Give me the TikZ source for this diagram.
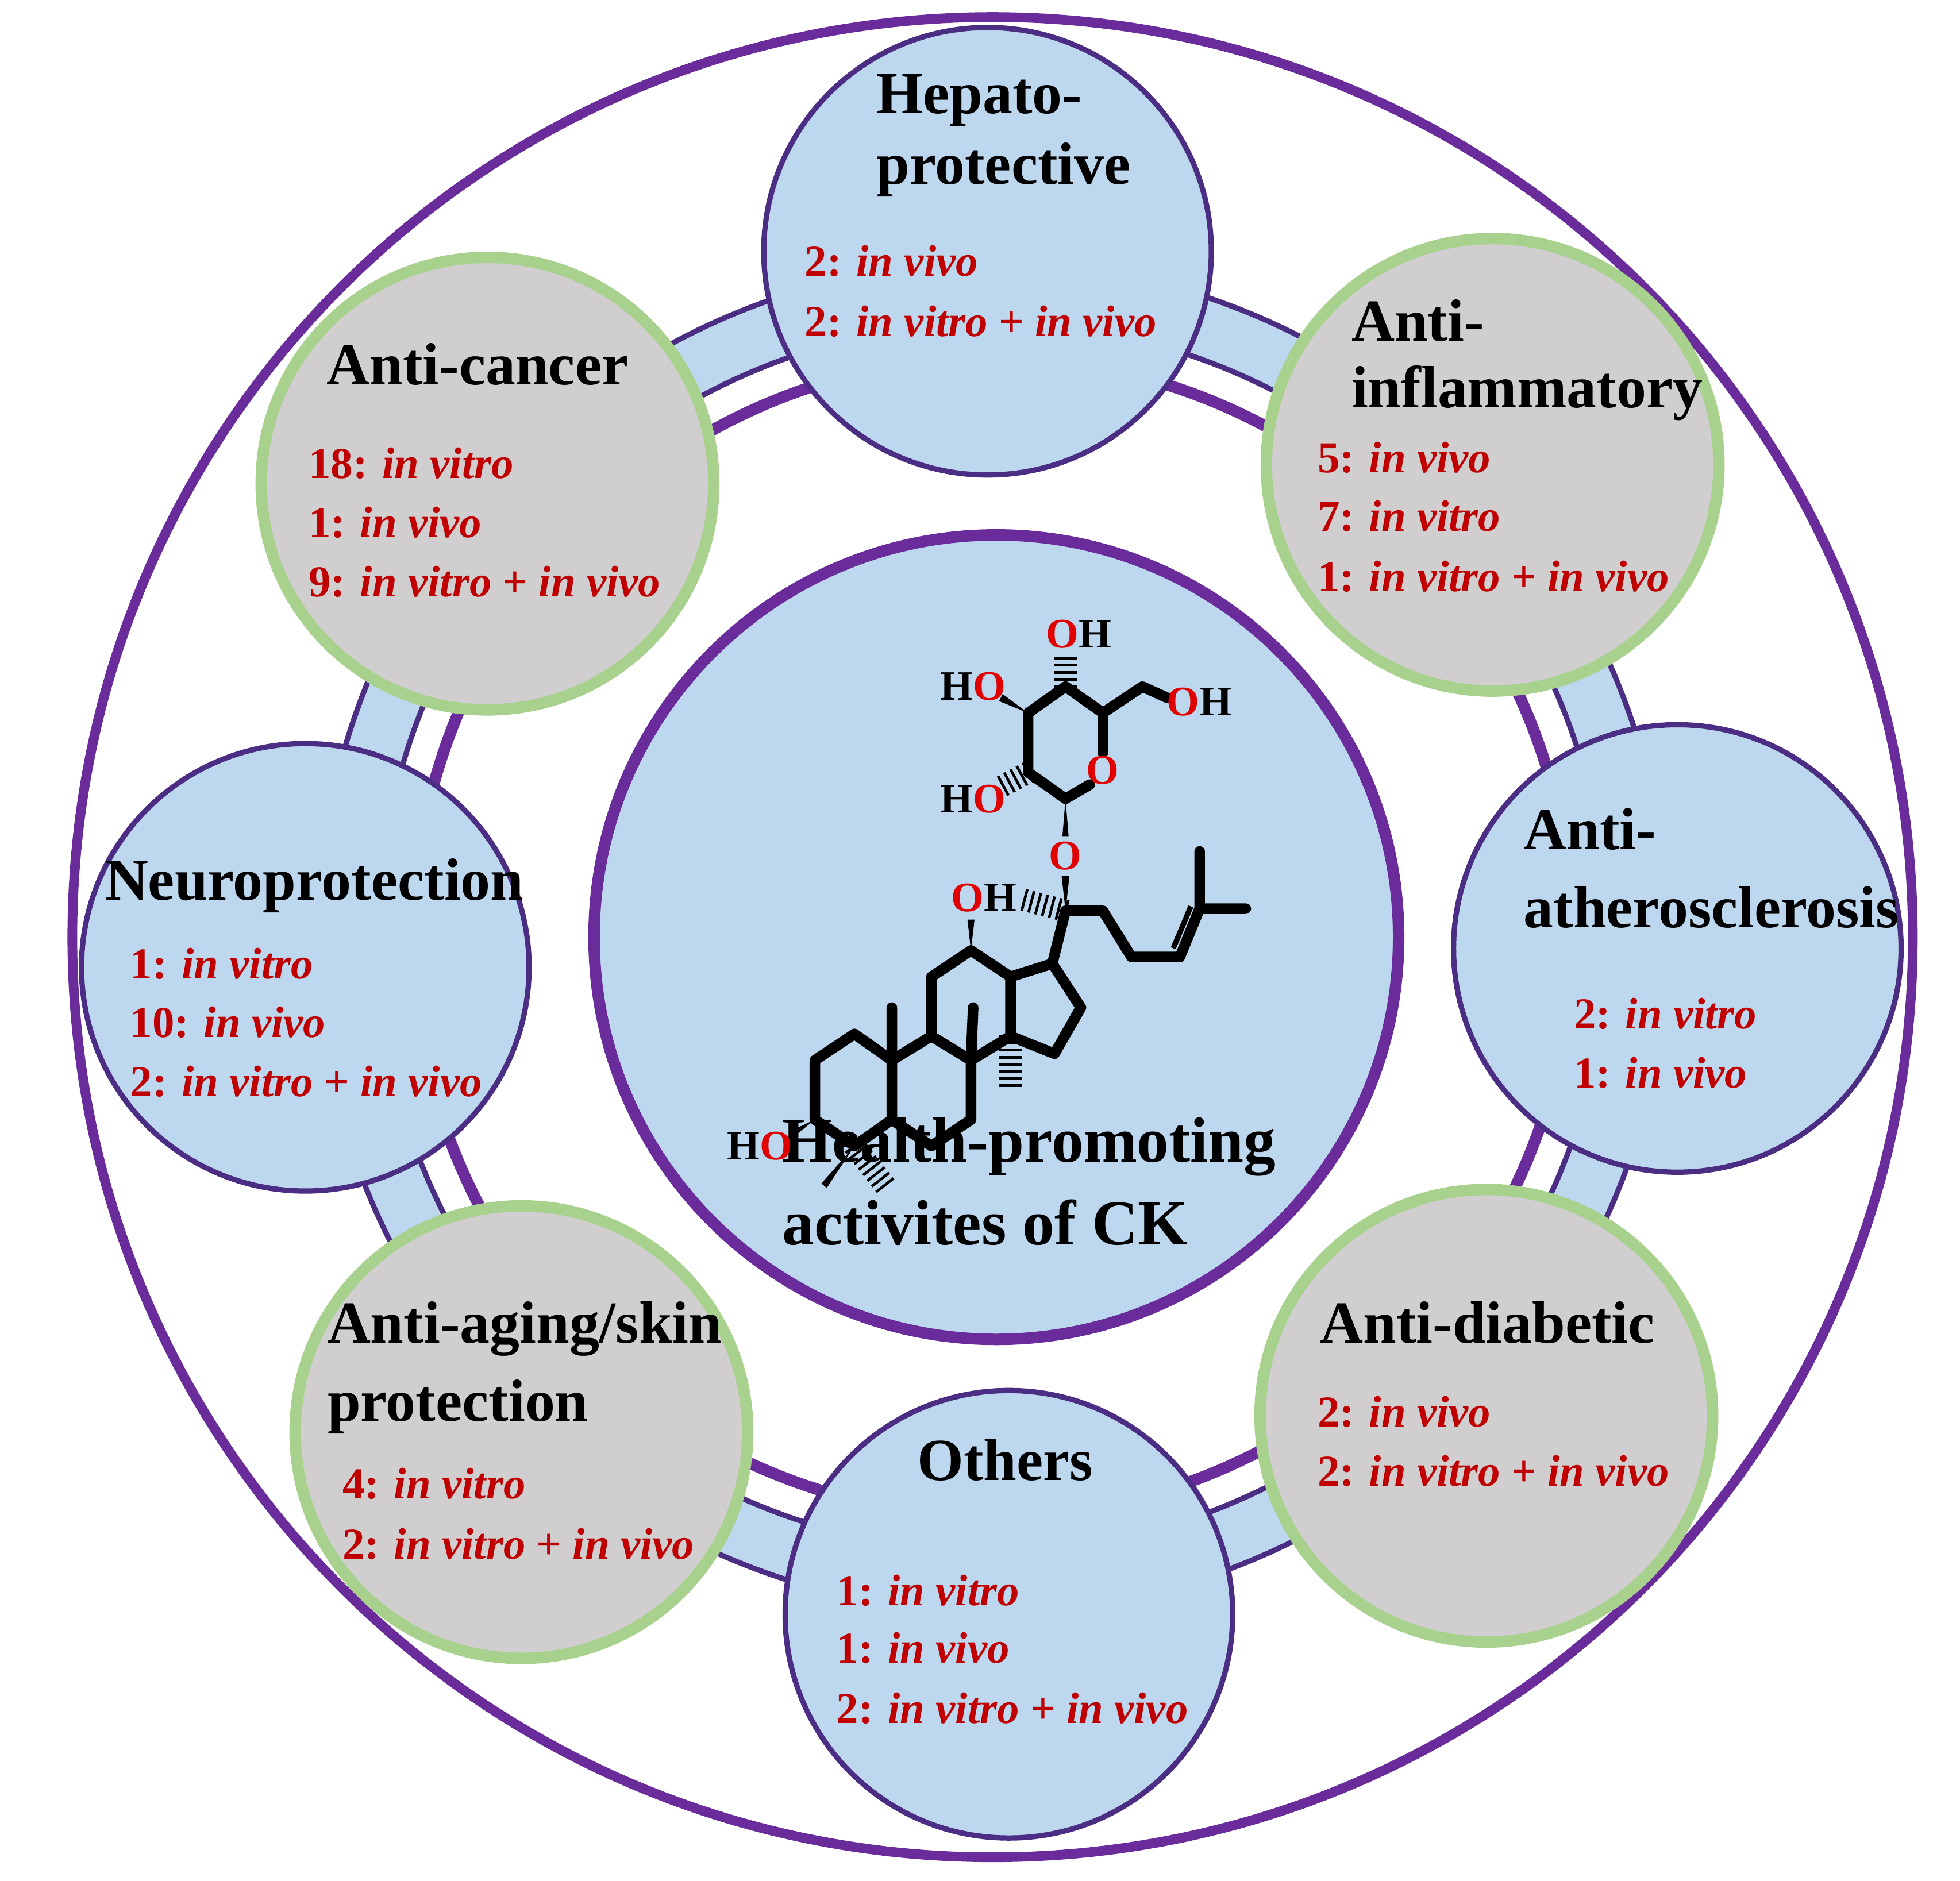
\documentclass[tikz,border=0pt]{standalone}
\usepackage{fontspec}
\setmainfont{Liberation Serif}
\usetikzlibrary{decorations.pathreplacing}
\definecolor{pur}{HTML}{6A2C9A}
\definecolor{dpur}{HTML}{4B2E83}
\definecolor{lblue}{HTML}{BDD7EE}
\definecolor{lgray}{HTML}{D0CECE}
\definecolor{lgreen}{HTML}{A9D18E}
\definecolor{dred}{HTML}{C00000}
\definecolor{ored}{HTML}{E00000}
\tikzset{
 bsat/.style={circle,draw=dpur,line width=1.2pt,fill=lblue,minimum size=3.56cm,inner sep=0},
 gsat/.style={circle,draw=lgreen,line width=2.6pt,fill=lgray,minimum size=3.6cm,inner sep=0},
 ttl/.style={anchor=west,font=\bfseries\fontsize{13.5}{14}\selectfont,inner sep=0},
 ttc/.style={font=\bfseries\fontsize{13.5}{14}\selectfont,inner sep=0},
 num/.style={anchor=west,text=dred,font=\bfseries\fontsize{10}{11}\selectfont,inner sep=0},
 bond/.style={line width=2.4pt,line cap=round,line join=round},
 hash/.style={decorate,decoration={ticks,segment length=1.6pt,amplitude=2.5pt},line width=0.6pt},
 atm/.style={font=\bfseries\fontsize{9.5}{10}\selectfont,inner sep=0}
}
\newcommand{\iv}{\textit{in vivo}}
\newcommand{\ivt}{\textit{in vitro}}
\begin{document}
\begin{tikzpicture}[x=0.01cm,y=-0.01cm]
\useasboundingbox (0,0) rectangle (1560,1497);
\node[circle,draw=pur,line width=2.2pt,minimum size=14.64cm,inner sep=0] (outer) at (790,746) {};
% band ring
\fill[lblue,even odd rule] (790,746) circle (537) (790,746) circle (489);
\draw[dpur,line width=1.2pt] (790,746) circle (537) (790,746) circle (489);
\draw[pur,line width=2.6pt] (790,746) circle (461);
\node[circle,draw=pur,line width=2.6pt,fill=lblue,minimum size=6.4cm,inner sep=0] (ctr) at (793,746) {};
% satellites
\node[bsat] (hep) at (786,200) {};
\node[gsat] (inf) at (1188,370) {};
\node[bsat] (ath) at (1335,755) {};
\node[gsat] (dia) at (1183,1127) {};
\node[bsat] (oth) at (803,1285) {};
\node[gsat] (age) at (415,1140) {};
\node[bsat] (neu) at (243,770) {};
\node[gsat] (can) at (388,385) {};
% texts
\node[ttl] (t1) at (697,80) {Hepato-};
\node[ttl] (t2) at (697,135) {protective};
\node[num] (n1) at (640,208) {2: \iv};
\node[num] (n2) at (640,256) {2: \ivt{} + \iv};
\node[ttc] (t3) at (380,290) {Anti-cancer};
\node[num] (n3) at (245,369) {18: \ivt};
\node[num] (n4) at (245,416) {1: \iv};
\node[num] (n5) at (245,463) {9: \ivt{} + \iv};
\node[ttl] (t4) at (1075,255) {Anti-};
\node[ttl] (t5) at (1075,313) {inflammatory};
\node[num] (n6) at (1048,364) {5: \iv};
\node[num] (n7) at (1048,411) {7: \ivt};
\node[num] (n8) at (1048,459) {1: \ivt{} + \iv};
\node[ttl] (t6) at (1212,660) {Anti-};
\node[ttl] (t7) at (1212,722) {atherosclerosis};
\node[num] (n9) at (1252,807) {2: \ivt};
\node[num] (n10) at (1252,854) {1: \iv};
\node[ttl] (t8) at (1050,1053) {Anti-diabetic};
\node[num] (n11) at (1048,1124) {2: \iv};
\node[num] (n12) at (1048,1171) {2: \ivt{} + \iv};
\node[ttc] (t9) at (800,1162) {Others};
\node[num] (n13) at (665,1266) {1: \ivt};
\node[num] (n14) at (665,1312) {1: \iv};
\node[num] (n15) at (665,1360) {2: \ivt{} + \iv};
\node[ttl] (t10) at (260,1058) {Anti-aging/skin};
\node[ttl] (t11) at (260,1120) {protection};
\node[num] (n16) at (272,1181) {4: \ivt};
\node[num] (n17) at (272,1229) {2: \ivt{} + \iv};
\node[ttl] (t12) at (83,705) {Neuroprotection};
\node[num] (n18) at (103,767) {1: \ivt};
\node[num] (n19) at (103,814) {10: \iv};
\node[num] (n20) at (103,861) {2: \ivt{} + \iv};
\node[ttl,font=\bfseries\fontsize{14.5}{15}\selectfont] (c1) at (622,913) {Health-promoting};
\node[ttl,font=\bfseries\fontsize{14.5}{15}\selectfont] (c2) at (622,973) {activites of CK};
% molecule
\begin{scope}[shift={(548.8,457.3)},scale=0.35]
\draw[bond] (285,1105)--(375,1045)--(460,1105)--(460,1240)--(375,1300)--(285,1240)--cycle;
\draw[bond] (460,1105)--(550,1050)--(640,1105)--(640,1240)--(550,1300)--(460,1240);
\draw[bond] (550,1050)--(550,915)--(640,855)--(730,915)--(730,1050)--(640,1105);
\draw[bond] (730,915)--(825,885)--(890,985)--(830,1090)--(730,1050);
\draw[bond] (460,1105)--(460,985) (640,1105)--(645,985);
\draw[bond] (825,885)--(855,765)--(940,765)--(1005,870)--(1115,870)--(1160,760)--(1160,630) (1160,760)--(1265,760);
\draw[line width=1.2pt] (1100,850)--(1140,755);
\fill (375,1300)--(300,1385)--(312,1395)--cycle;
\fill (285,1240)--(225,1268)--(233,1282)--cycle;
\fill (640,855)--(632,785)--(648,785)--cycle;
\fill (855,765)--(846,685)--(864,685)--cycle;
\fill (855,510)--(848,595)--(862,595)--cycle;
\fill (770,315)--(712,272)--(704,288)--cycle;
\draw[hash] (375,1300)--(445,1390);
\draw[hash] (730,1050)--(730,1175);
\draw[hash] (855,765)--(760,740);
\draw[hash] (770,450)--(705,485);
\draw[hash] (855,255)--(855,175);
\draw[bond] (855,510)--(770,450)--(770,315)--(855,255)--(940,315)--(940,405);
\draw[bond] (855,510)--(910,478);
\draw[bond] (940,315)--(1030,255)--(1085,280);
\node[atm] (oa) at (160,1300) {H\textcolor{ored}{O}};
\node[atm] (ob) at (670,735) {\textcolor{ored}{O}H};
\node[atm] (oc) at (855,640) {\textcolor{ored}{O}};
\node[atm] (od) at (940,445) {\textcolor{ored}{O}};
\node[atm] (oe) at (645,510) {H\textcolor{ored}{O}};
\node[atm] (of) at (645,255) {H\textcolor{ored}{O}};
\node[atm] (og) at (885,135) {\textcolor{ored}{O}H};
\node[atm] (oh) at (1160,290) {\textcolor{ored}{O}H};
\end{scope}
\end{tikzpicture}
\end{document}
